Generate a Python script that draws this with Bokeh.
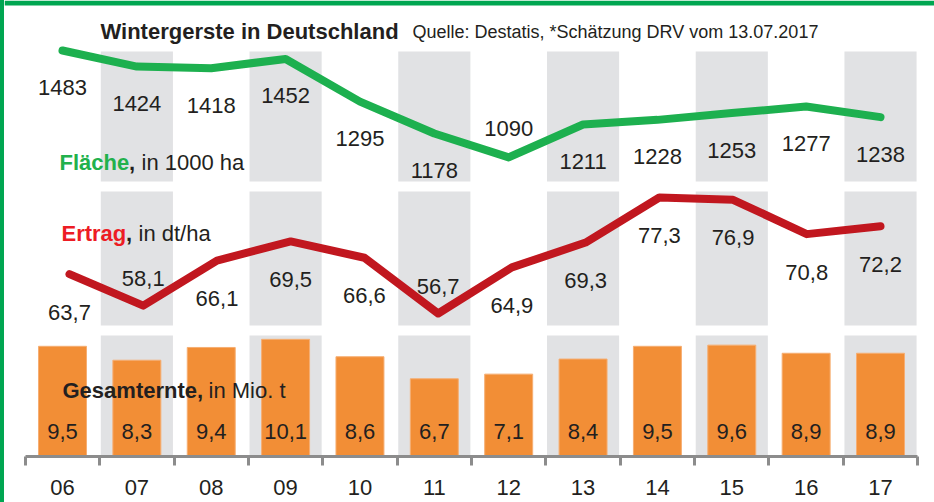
import numpy as np
from bokeh.plotting import figure
from bokeh.models import Range1d, LinearAxis, FixedTicker, ColumnDataSource, Div
from bokeh.layouts import row
from bokeh.core.properties import value
from bokeh.embed import file_html
from bokeh.resources import INLINE

# ---------------- data ----------------
years = ["06", "07", "08", "09", "10", "11", "12", "13", "14", "15", "16", "17"]
flaeche = [1483, 1424, 1418, 1452, 1295, 1178, 1090, 1211, 1228, 1253, 1277, 1238]
ertrag = [63.7, 58.1, 66.1, 69.5, 66.6, 56.7, 64.9, 69.3, 77.3, 76.9, 70.8, 72.2]
ernte = [9.5, 8.3, 9.4, 10.1, 8.6, 6.7, 7.1, 8.4, 9.5, 9.6, 8.9, 8.9]

title = "Wintergerste in Deutschland"
source_note = "Quelle: Destatis, *Schätzung DRV vom  13.07.2017"

# label placement (style): True -> label above the line point
flaeche_above = [False, False, False, False, False, False, True, False, False, False, False, False]
ertrag_above = [False, True, False, False, False, True, False, False, False, False, False, False]

# ---------------- style ----------------
FONT = "Liberation Sans"
TXT = "#231F20"
GREEN_LINE = "#1DB04F"
GREEN_TXT = "#22B14C"
RED_LINE = "#C1171F"
RED_TXT = "#ED1C24"
ORANGE = "#F28E36"
STRIPE = "#E1E2E4"
FRAME_GREEN = "#00A651"
AXIS_GREY = "#8C8C8C"
NUM_SIZE = "22px"


def de(v):
    return f"{v:.1f}".replace(".", ",")


n = len(years)
idx = list(range(n))

W, H = 934, 502
LEFT, BOTTOM = 4, 46
FW, FH = W - LEFT, H - BOTTOM
BASE = FH  # screen y of the frame bottom (456)

p = figure(width=FW, height=H,
           x_range=Range1d(-0.78, 11.726), y_range=Range1d(0, FH),
           x_axis_type=None, y_axis_type=None,
           output_backend="svg", toolbar_location=None,
           min_border_left=0, min_border_right=0, min_border_top=0, min_border_bottom=BOTTOM)
p.outline_line_color = None
p.grid.visible = False
p.background_fill_color = "white"
p.border_fill_color = "white"
p.margin = 0

p.extra_x_ranges = {"px": Range1d(LEFT, W), "red": Range1d(-0.8816, 11.7324)}
p.extra_y_ranges = {"bars": Range1d(0, FH / 11.6),
                    "green": Range1d(-9.6, 1666.8),
                    "red": Range1d(31.3, 112.3)}

# green top rule of the frame
p.quad(left=[LEFT], right=[W], bottom=[FH - 5], top=[FH], x_range_name="px",
       fill_color=FRAME_GREEN, line_color=None)

# alternating grey stripes in three bands (y up from frame bottom, px)
bands = [(275, 405), (131, 265), (0, 121)]
sl, sr, sb, st = [], [], [], []
for b0, b1 in bands:
    for i in idx:
        if i % 2 == 1:
            sl.append(i - 0.485); sr.append(i + 0.485); sb.append(b0); st.append(b1)
p.quad(left=sl, right=sr, bottom=sb, top=st, fill_color=STRIPE, line_color=None)

# bars: Gesamternte
bsrc = ColumnDataSource(dict(x=idx, top=ernte, lab=[de(v) for v in ernte]))
p.vbar(x="x", width=0.645, top="top", bottom=0, source=bsrc, y_range_name="bars",
       fill_color=ORANGE, line_color="#F6AE72", line_width=1)
p.text(x="x", y=25, text="lab", source=bsrc, text_align="center", text_baseline="middle",
       text_font=value(FONT), text_font_size=NUM_SIZE, text_color=TXT)

# green line: Fläche
gsrc = ColumnDataSource(dict(x=idx, y=flaeche, lab=[str(v) for v in flaeche],
                             off=[-29 if a else 37 for a in flaeche_above]))
p.line(x="x", y="y", source=gsrc, y_range_name="green", line_width=8,
       line_color=GREEN_LINE, line_cap="round", line_join="round")
p.text(x="x", y="y", text="lab", source=gsrc, y_range_name="green", y_offset="off",
       text_align="center", text_baseline="middle",
       text_font=value(FONT), text_font_size=NUM_SIZE, text_color=TXT)

# red line: Ertrag
rsrc = ColumnDataSource(dict(x=idx, y=ertrag, lab=[de(v) for v in ertrag],
                             off=[-27 if a else 38 for a in ertrag_above]))
p.line(x="x", y="y", source=rsrc, x_range_name="red", y_range_name="red", line_width=8,
       line_color=RED_LINE, line_cap="round", line_join="round")
p.text(x="x", y="y", text="lab", source=rsrc, x_range_name="red", y_range_name="red",
       y_offset="off", text_align="center", text_baseline="middle",
       text_font=value(FONT), text_font_size=NUM_SIZE, text_color=TXT)


# captions (x in page px, y as screen px from top)
def put(x, sy, s, color, bold, size="22px"):
    p.text(x=[x], y=[BASE - sy], text=[s], x_range_name="px", text_align="left",
           text_baseline="alphabetic", text_font=value(FONT), text_font_size=size,
           text_font_style="bold" if bold else "normal", text_color=color)


put(59, 162, "Fläche", GREEN_TXT, True)
put(128.5, 162, ",", TXT, True)
put(141, 162, "in 1000  ha", TXT, False)

put(61, 233, "Ertrag", RED_TXT, True)
put(125.5, 233, ",", TXT, True)
put(138, 233, "in dt/ha", TXT, False)

put(62, 390, "Gesamternte,", TXT, True)
put(208, 390, "in Mio. t", TXT, False)

put(100, 31, title, TXT, True, "22px")
put(412, 31, source_note, TXT, False, "18px")

# x axis: ticks at category boundaries, labels at centres
ax = LinearAxis(ticker=FixedTicker(ticks=idx, minor_ticks=[i - 0.5 for i in range(n + 1)]),
                bounds=(-0.5, n - 0.5))
ax.major_label_overrides = {i: years[i] for i in idx}
ax.axis_line_width = 3
ax.axis_line_color = AXIS_GREY
ax.major_tick_line_color = None
ax.major_tick_out = 0
ax.major_tick_in = 0
ax.minor_tick_line_color = AXIS_GREY
ax.minor_tick_line_width = 3
ax.minor_tick_out = 9
ax.minor_tick_in = 0
ax.major_label_standoff = 14
ax.major_label_text_font = FONT
ax.major_label_text_font_size = "22px"
ax.major_label_text_color = TXT
p.add_layout(ax, "below")

# green left rule of the frame
edge = Div(text="", width=LEFT, height=H, margin=0,
           styles={"background-color": FRAME_GREEN, "padding": "0px"})

layout = row(edge, p, spacing=0, margin=0)

open("out.html", "w").write(file_html(layout, INLINE))
